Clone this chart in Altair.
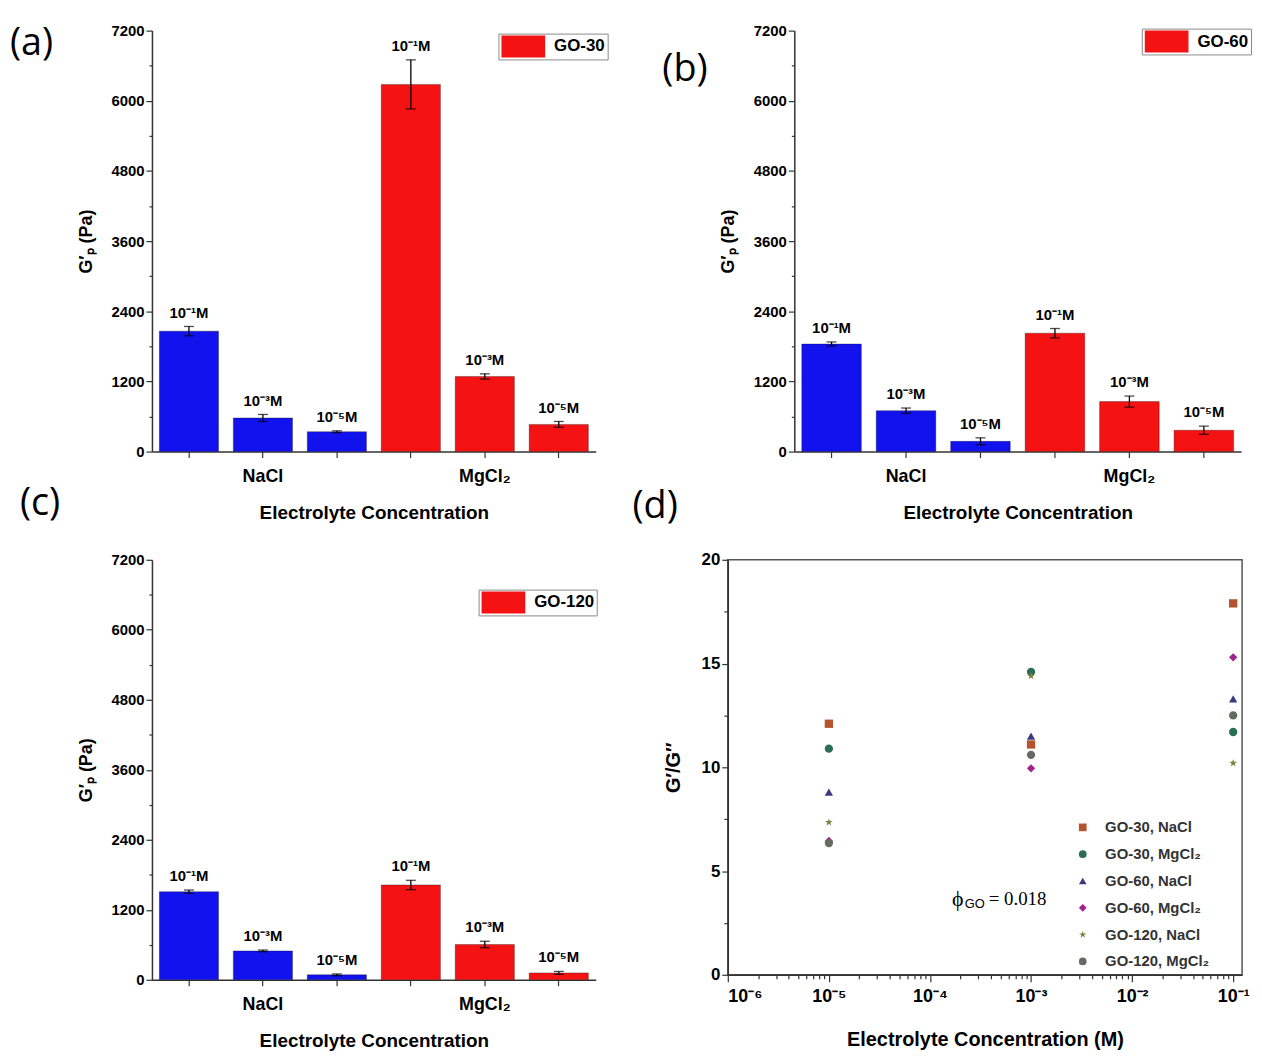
import altair as alt
import pandas as pd

# ---------------- data: bar panels (a), (b), (c) ----------------
categories = ["NaCl 0.1", "NaCl 0.001", "NaCl 0.00001",
              "MgCl2 0.1", "MgCl2 0.001", "MgCl2 0.00001"]
salts = ["NaCl", "NaCl", "NaCl", "MgCl2", "MgCl2", "MgCl2"]
conc_labels = ["10⁻¹M", "10⁻³M", "10⁻⁵M", "10⁻¹M", "10⁻³M", "10⁻⁵M"]

go30_vals = [2060, 575, 340, 6280, 1285, 465]
go30_err = [80, 60, 15, 420, 45, 50]
go60_vals = [1840, 700, 175, 2025, 855, 365]
go60_err = [35, 45, 60, 80, 95, 70]
go120_vals = [1510, 495, 85, 1625, 605, 118]
go120_err = [28, 15, 15, 80, 55, 25]

bar_y_ticks = [0, 1200, 2400, 3600, 4800, 6000, 7200]
bar_y_minor = [600, 1800, 3000, 4200, 5400, 6600]

# ---------------- data: scatter panel (d) ----------------
conc_d = [1e-5, 1e-3, 1e-1]
series_names = ["GO-30, NaCl", "GO-30, MgCl₂", "GO-60, NaCl",
                "GO-60, MgCl₂", "GO-120, NaCl", "GO-120, MgCl₂"]
ratio_go30_nacl = [12.1, 11.1, 17.9]
ratio_go30_mgcl2 = [10.9, 14.6, 11.7]
ratio_go60_nacl = [8.8, 11.5, 13.3]
ratio_go60_mgcl2 = [6.45, 9.95, 15.3]
ratio_go120_nacl = [7.35, 14.4, 10.2]
ratio_go120_mgcl2 = [6.35, 10.6, 12.5]

d_x_ticks = [1e-6, 1e-5, 1e-4, 1e-3, 1e-2, 1e-1]
d_x_minor = [m * d for d in [1e-6, 1e-5, 1e-4, 1e-3, 1e-2] for m in range(2, 10)]
d_y_ticks = [0, 5, 10, 15, 20]
d_y_minor = [2.5, 7.5, 12.5, 17.5]

phi_x = [1.65e-4]
phi_y = [3.65]

# ---------------- styles ----------------
FONT = "Liberation Sans"
BLUE = "#1212ee"
RED = "#f41212"
series_colors = ["#b4532e", "#2b6f52", "#3a3a82", "#a3228c", "#808040", "#646b60"]
star = ("M0,-1L0.2245,-0.309L0.951,-0.309L0.363,0.118L0.588,0.809L0,0.382"
        "L-0.588,0.809L-0.363,0.118L-0.951,-0.309L-0.2245,-0.309Z")
series_shapes = ["square", "circle", "triangle-up", "diamond", star, "circle"]


def panel_title(letter, dx, dy):
    return alt.Title(letter, anchor="start", frame="group", dx=dx, dy=dy,
                     fontSize=38, font="Open Sans", fontWeight="normal",
                     baseline="bottom", color="black")


def bar_panel(vals, errs, name, letter, w, h, lx, ly, tdx, tdy):
    df = pd.DataFrame({"cat": categories, "salt": salts, "conc": conc_labels,
                       "val": vals, "err": errs})
    df["lo"] = df["val"] - df["err"]
    df["hi"] = df["val"] + df["err"]

    x = alt.X("cat:N", sort=categories,
              scale=alt.Scale(paddingInner=0.2, paddingOuter=0.1),
              axis=alt.Axis(title="Electrolyte Concentration", labelAngle=0,
                            labelExpr="datum.value == 'NaCl 0.001' ? 'NaCl' : "
                                      "(datum.value == 'MgCl2 0.001' ? 'MgCl₂' : '')",
                            labelFontSize=18, labelPadding=10, tickSize=6,
                            titleFontSize=19, titlePadding=18))
    yscale = alt.Scale(domain=[0, 7200], nice=False)

    bars = alt.Chart(df).mark_bar(stroke="black", strokeOpacity=0.3, strokeWidth=1).encode(
        x=x,
        y=alt.Y("val:Q", scale=yscale,
                axis=alt.Axis(values=bar_y_ticks, format="d", title="G′ₚ (Pa)",
                              labelFontSize=15, tickSize=6, titleFontSize=18,
                              titlePadding=16, orient="left")),
        color=alt.Color("salt:N",
                        scale=alt.Scale(domain=["NaCl", "MgCl2"], range=[BLUE, RED]),
                        legend=alt.Legend(values=["MgCl2"], labelExpr=f"'{name}'",
                                          title=None, orient="none", legendX=lx, legendY=ly,
                                          strokeColor="#8a8a8a", padding=2,
                                          symbolType="M-2,-1H2V1H-2Z", symbolSize=484,
                                          symbolOffset=12, labelOffset=20,
                                          symbolStrokeWidth=0, labelFontSize=17,
                                          labelFont=FONT, labelFontWeight="bold",
                                          labelColor="black")),
    )
    rules = alt.Chart(df).mark_rule(color="black", strokeWidth=1.3).encode(
        x=x, y=alt.Y("lo:Q", scale=yscale, axis=None), y2="hi:Q")
    cap_hi = alt.Chart(df).mark_tick(color="black", thickness=1.3, size=10).encode(
        x=x, y=alt.Y("hi:Q", scale=yscale, axis=None))
    cap_lo = alt.Chart(df).mark_tick(color="black", thickness=1.3, size=10).encode(
        x=x, y=alt.Y("lo:Q", scale=yscale, axis=None))
    labels = alt.Chart(df).mark_text(fontSize=15, font=FONT, fontWeight="bold",
                                     baseline="bottom", dy=-6, color="black").encode(
        x=x, y=alt.Y("hi:Q", scale=yscale, axis=None), text="conc:N")
    minor = alt.Chart(pd.DataFrame({"m": bar_y_minor})).mark_tick(opacity=0).encode(
        y=alt.Y("m:Q", scale=yscale,
                axis=alt.Axis(values=bar_y_minor, labels=False, tickSize=3, domain=False,
                              title=None, orient="left")))

    return alt.layer(bars, rules, cap_hi, cap_lo, labels, minor).resolve_axis(
        y="independent").properties(width=w, height=h, title=panel_title(letter, tdx, tdy))


panel_a = bar_panel(go30_vals, go30_err, "GO-30", "(a)", 447, 424, 349, 3, -143, 82)
panel_b = bar_panel(go60_vals, go60_err, "GO-60", "(b)", 450, 424, 350, -2, -133, 108)
panel_c = bar_panel(go120_vals, go120_err, "GO-120", "(c)", 447, 423, 329, 30, -133, 12)

# ---------------- panel (d) ----------------
rows = []
all_series = [ratio_go30_nacl, ratio_go30_mgcl2, ratio_go60_nacl,
              ratio_go60_mgcl2, ratio_go120_nacl, ratio_go120_mgcl2]
for name, vals in zip(series_names, all_series):
    for c, v in zip(conc_d, vals):
        rows.append({"series": name, "conc": c, "ratio": v})
df_d = pd.DataFrame(rows)

xscale_d = alt.Scale(type="log", domain=[1e-6, 0.1225], nice=False)
yscale_d = alt.Scale(domain=[0, 20], nice=False)

x_label_expr = ("datum.value < 5e-6 ? '10⁻⁶' : datum.value < 5e-5 ? '10⁻⁵' : "
                "datum.value < 5e-4 ? '10⁻⁴' : datum.value < 5e-3 ? '10⁻³' : "
                "datum.value < 5e-2 ? '10⁻²' : '10⁻¹'")

points = alt.Chart(df_d).mark_point(filled=True, size=70, opacity=1).encode(
    x=alt.X("conc:Q", scale=xscale_d,
            axis=alt.Axis(values=d_x_ticks, labelExpr=x_label_expr, labelFontSize=18,
                          tickSize=7, labelPadding=6, title="Electrolyte Concentration (M)",
                          titleFontSize=20, titlePadding=24, orient="bottom")),
    y=alt.Y("ratio:Q", scale=yscale_d,
            axis=alt.Axis(values=d_y_ticks, title="G′/G′′", labelFontSize=17, tickSize=6,
                          titleFontSize=20, titlePadding=18, orient="left")),
    color=alt.Color("series:N", sort=series_names,
                    scale=alt.Scale(domain=series_names, range=series_colors),
                    legend=alt.Legend(title=None, orient="none", legendX=350, legendY=262,
                                      labelFontSize=15, labelFont=FONT,
                                      labelFontWeight="bold", labelColor="#333333",
                                      symbolSize=60, rowPadding=11, labelOffset=15)),
    shape=alt.Shape("series:N", sort=series_names,
                    scale=alt.Scale(domain=series_names, range=series_shapes)),
)

phi_df = pd.DataFrame({"x": phi_x, "y": phi_y})
phi_main = alt.Chart(phi_df).mark_text(font="Liberation Serif", fontSize=22, align="left",
                                       baseline="middle", color="black").encode(
    x=alt.X("x:Q", scale=xscale_d, axis=None), y=alt.Y("y:Q", scale=yscale_d, axis=None),
    text=alt.value("ϕ"))
phi_sub = alt.Chart(phi_df).mark_text(font="Liberation Sans", fontSize=13, align="left",
                                      baseline="middle", dx=13, dy=5, color="black").encode(
    x=alt.X("x:Q", scale=xscale_d, axis=None), y=alt.Y("y:Q", scale=yscale_d, axis=None),
    text=alt.value("GO"))
phi_val = alt.Chart(phi_df).mark_text(font="Liberation Serif", fontSize=19, align="left",
                                      baseline="middle", dx=37, color="black").encode(
    x=alt.X("x:Q", scale=xscale_d, axis=None), y=alt.Y("y:Q", scale=yscale_d, axis=None),
    text=alt.value("= 0.018"))

minor_x = alt.Chart(pd.DataFrame({"m": d_x_minor})).mark_tick(opacity=0).encode(
    x=alt.X("m:Q", scale=xscale_d,
            axis=alt.Axis(values=d_x_minor, labels=False, tickSize=4, domain=False,
                          title=None, orient="bottom")))
minor_y = alt.Chart(pd.DataFrame({"m": d_y_minor})).mark_tick(opacity=0).encode(
    y=alt.Y("m:Q", scale=yscale_d,
            axis=alt.Axis(values=d_y_minor, labels=False, tickSize=4, domain=False,
                          title=None, orient="left")))

panel_d = alt.layer(points, phi_main, phi_sub, phi_val, minor_x, minor_y).resolve_axis(
    x="independent", y="independent").properties(
    width=518, height=418, title=panel_title("(d)", -96, 17),
    view=alt.ViewBackground(stroke="#555555", strokeWidth=1.5))

top = alt.hconcat(panel_a, panel_b, spacing=200, bounds="flush").resolve_scale(
    color="independent")
bottom = alt.hconcat(panel_c, panel_d, spacing=133, bounds="flush").resolve_scale(
    color="independent", shape="independent")

# nested concat rows count as zero height in a flush layout, so the spacing is the
# distance between the top edges of the two rows
chart = alt.vconcat(top, bottom, spacing=533, bounds="flush").resolve_scale(
    color="independent", shape="independent").properties(
    padding={"left": 2, "right": 2, "top": 12, "bottom": 2}
).configure_view(strokeWidth=0).configure_axis(
    grid=False, domainColor="#333333", tickColor="#333333", labelColor="black",
    titleColor="black", labelFont=FONT, titleFont=FONT, labelFontWeight="bold",
    titleFontWeight="bold", domainWidth=1.5, tickWidth=1.2
).configure_legend(labelLimit=300)

chart.save("out.html", embed_options={"renderer": "svg", "actions": False})
